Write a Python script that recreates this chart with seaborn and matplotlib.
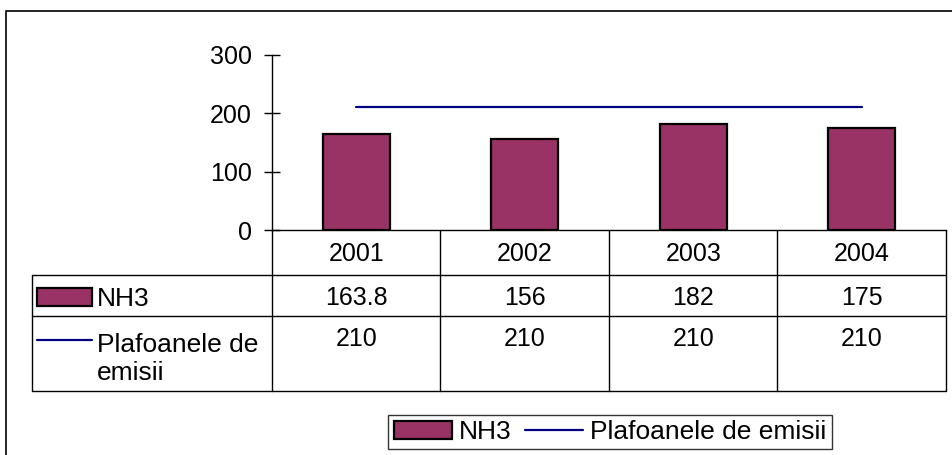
import numpy as np
import matplotlib
matplotlib.use("Agg")
import matplotlib.pyplot as plt
from matplotlib.patches import Rectangle, Patch
from matplotlib.lines import Line2D
import seaborn as sns

# Datos
anios = ["2001", "2002", "2003", "2004"]
nh3 = [163.8, 156, 182, 175]
plafon = [210, 210, 210, 210]
etiqueta_nh3 = "NH3"
etiqueta_plafon = "Plafoanele de emisii"

color_barra = "#993366"
color_linea = "#000080"

sns.set_style("white")
plt.rcParams["font.family"] = ["Liberation Sans", "DejaVu Sans"]
plt.rcParams["text.color"] = "black"
plt.rcParams["ytick.color"] = "black"

W, H = 953, 455
FS = 18      # numeros
FS_TXT = 19  # etiquetas


def px(x0, y0, x1, y1):
    # rectangulo en pixeles (origen arriba-izquierda) -> coords de figura
    return [x0 / W, 1 - y1 / H, (x1 - x0) / W, (y1 - y0) / H]


fig = plt.figure(figsize=(W / 100, H / 100), dpi=100)

# Marco exterior
fig.patches.append(Rectangle((6 / W, -0.1), 1.2, 1 - 11 / H + 0.1,
                             transform=fig.transFigure, fill=False,
                             edgecolor="black", lw=1.2))

# Grafico principal
ax = fig.add_axes(px(272, 55, 946, 230))
sns.barplot(x=anios, y=nh3, color=color_barra, saturation=1,
            edgecolor="black", linewidth=1.6, width=0.4, ax=ax)
sns.lineplot(x=np.arange(len(anios)), y=plafon, color=color_linea,
             lw=1.6, ax=ax)
ax.set_xlim(-0.5, len(anios) - 0.5)
ax.set_ylim(0, 300)
ax.set_yticks([0, 100, 200, 300])
ax.set_xticks([])
ax.set_xlabel("")
ax.set_ylabel("")
ax.tick_params(axis="y", left=True, direction="inout", length=11, width=1,
               color="black", labelcolor="black", labelsize=FS, pad=9)
for s in ["top", "right"]:
    ax.spines[s].set_visible(False)
for s in ["left", "bottom"]:
    ax.spines[s].set_color("black")
    ax.spines[s].set_linewidth(1)

# Tabla de datos
x_ini, x_lab, x_fin = 32, 272, 946
y_filas = [230, 275, 316, 391]
tab = fig.add_axes(px(x_ini, y_filas[0], x_fin, y_filas[-1]))
tab.set_xlim(x_ini, x_fin)
tab.set_ylim(y_filas[-1], y_filas[0])
tab.axis("off")

ancho_col = (x_fin - x_lab) / len(anios)
kw = dict(color="black", lw=1, clip_on=False)
for y in y_filas[1:]:
    tab.plot([x_ini, x_fin], [y, y], **kw)
tab.plot([x_ini, x_ini], [y_filas[1], y_filas[-1]], **kw)
for i in range(len(anios) + 1):
    xc = x_lab + i * ancho_col
    tab.plot([xc, xc], [y_filas[0], y_filas[-1]], **kw)

for i, a in enumerate(anios):
    cx = x_lab + (i + 0.5) * ancho_col
    tab.text(cx, 261, a, ha="center", va="baseline", fontsize=FS)
    tab.text(cx, 305, f"{nh3[i]:g}", ha="center", va="baseline", fontsize=FS)
    tab.text(cx, 346, f"{plafon[i]:g}", ha="center", va="baseline", fontsize=FS)

tab.add_patch(Rectangle((37, 288), 55, 18, facecolor=color_barra,
                        edgecolor="black", lw=1.6, clip_on=False))
tab.text(97, 306, etiqueta_nh3, ha="left", va="baseline", fontsize=FS_TXT)
tab.plot([37, 92], [340, 340], color=color_linea, lw=1.6, clip_on=False)
tab.text(97, 352, "Plafoanele de", ha="left", va="baseline", fontsize=FS_TXT)
tab.text(97, 380, "emisii", ha="left", va="baseline", fontsize=FS_TXT)

# Leyenda inferior
handles = [Patch(facecolor=color_barra, edgecolor="black", lw=1.6),
           Line2D([0], [0], color=color_linea, lw=1.6)]
leg = fig.legend(handles, [etiqueta_nh3, etiqueta_plafon], loc="center",
                 bbox_to_anchor=((383 + 837) / 2 / W, 1 - 432 / H),
                 ncol=2, frameon=True, fancybox=False, edgecolor="black",
                 fontsize=FS_TXT, handlelength=2.2, handleheight=0.65,
                 columnspacing=0.5, handletextpad=0.28, borderpad=0.2,
                 borderaxespad=0)
leg.get_frame().set_linewidth(1)

fig.savefig("out.png", dpi=100)
